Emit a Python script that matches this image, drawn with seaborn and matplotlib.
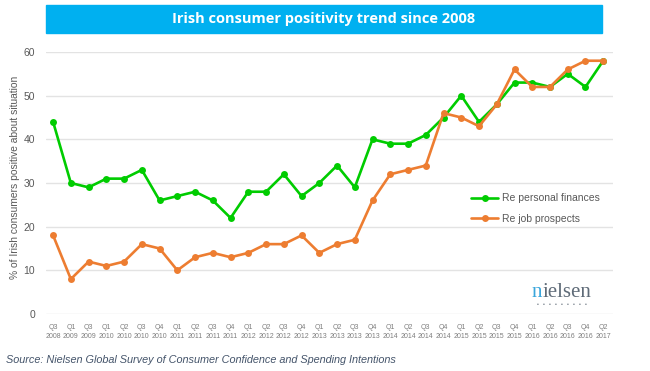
import pandas as pd
import seaborn as sns
from matplotlib import pyplot as plt
from matplotlib.patches import Rectangle


quarters = ['Q3\n2008', 'Q1\n2009', 'Q3\n2009', 'Q1\n2010', 'Q2\n2010', 'Q3\n2010',
            'Q4\n2010', 'Q1\n2011', 'Q2\n2011', 'Q3\n2011', 'Q4\n2011', 'Q1\n2012',
            'Q2\n2012', 'Q3\n2012', 'Q4\n2012', 'Q1\n2013', 'Q2\n2013', 'Q3\n2013',
            'Q4\n2013', 'Q1\n2014', 'Q2\n2014', 'Q3\n2014', 'Q4\n2014', 'Q1\n2015',
            'Q2\n2015', 'Q3\n2015', 'Q4\n2015', 'Q1\n2016', 'Q2\n2016', 'Q3\n2016',
            'Q4\n2016', 'Q2\n2017']

personal_finances = [44, 30, 29, 31, 31, 33, 26, 27, 28, 26, 22, 28, 28, 32, 27, 30,
                     34, 29, 40, 39, 39, 41, 45, 50, 44, 48, 53, 53, 52, 55, 52, 58]

job_prospects = [18, 8, 12, 11, 12, 16, 15, 10, 13, 14, 13, 14, 16, 16, 18, 14,
                 16, 17, 26, 32, 33, 34, 46, 45, 43, 48, 56, 52, 52, 56, 58, 58]

series_names = ['Re personal finances', 'Re job prospects']
series_colors = ['#00cc00', '#ed7d31']

df = pd.concat([
    pd.DataFrame({'quarter': quarters, 'value': personal_finances, 'series': series_names[0]}),
    pd.DataFrame({'quarter': quarters, 'value': job_prospects, 'series': series_names[1]}),
])

sns.set_style('white')
plt.rcParams['font.family'] = ['Liberation Sans', 'DejaVu Sans']

fig = plt.figure(figsize=(6.5, 3.71), dpi=100)
ax = fig.add_axes([46 / 650, 1 - 314 / 371, (613 - 46) / 650, (314 - 52) / 371])

sns.lineplot(data=df, x='quarter', y='value', hue='series', hue_order=series_names,
             palette=series_colors, marker='o', markersize=5, markeredgewidth=0,
             linewidth=1.9, sort=False, ax=ax)

ax.set_ylim(0, 60)
ax.set_xlim(-0.4, 31.55)
ax.set_yticks([0, 10, 20, 30, 40, 50, 60])
ax.grid(axis='y', color='#e3e3e3', linewidth=1)
ax.set_axisbelow(True)
for s in ax.spines.values():
    s.set_visible(False)
ax.tick_params(axis='x', labelsize=5, colors='#7f7f7f', length=0, pad=7)
ax.tick_params(axis='y', labelsize=7.5, colors='#595959', length=0, pad=8)
for lbl in ax.get_xticklabels():
    lbl.set_linespacing(1.4)
ax.set_xlabel('')
ax.set_ylabel('% of Irish consumers positive about situation', fontsize=7.4, color='#595959')
ax.yaxis.set_label_coords(-0.046, 0.52)

ax.legend(loc='upper left', bbox_to_anchor=(462 / 650, 1 - 184 / 371),
          bbox_transform=fig.transFigure, frameon=False, fontsize=7.5,
          handlelength=2.6, handletextpad=0.3, labelspacing=1.0, labelcolor='#595959')

# title banner
fig.patches.append(Rectangle((46 / 650, 1 - 33 / 371), 556 / 650, 28 / 371,
                             transform=fig.transFigure, color='#00b0f0', zorder=0))
fig.text(324 / 650, 1 - 19 / 371, 'Irish consumer positivity trend since 2008',
         ha='center', va='center', color='white', fontsize=10.5, fontweight='bold',
         family='Open Sans')

# nielsen logo
fig.canvas.draw()
n_txt = fig.text(532 / 650, 1 - 297 / 371, 'n', color='#3aa6dc', fontsize=15,
                 family='Liberation Serif', va='baseline')
bb = n_txt.get_window_extent(fig.canvas.get_renderer())
fig.text(bb.x1 / 650, 1 - 297 / 371, 'ielsen', color='#5f6b78', fontsize=15,
         family='Liberation Serif', va='baseline')
fig.text(562 / 650, 1 - 305 / 371, '   '.join(['\u2022'] * 9),
         color='#5f6b78', fontsize=3.6, ha='center', va='center')

fig.text(6 / 650, 1 - 360 / 371,
         'Source: Nielsen Global Survey of Consumer Confidence and Spending Intentions',
         fontsize=7.8, style='italic', color='#44546a', va='center')

fig.savefig('out.png', dpi=100)
